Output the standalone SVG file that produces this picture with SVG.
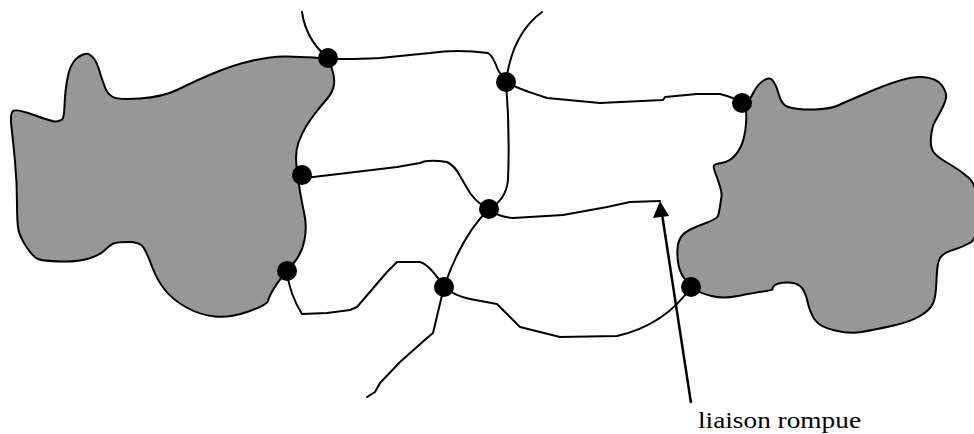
<svg xmlns="http://www.w3.org/2000/svg" width="974" height="434" viewBox="0 0 974 434">
<style>
.blob{fill:#979797;stroke:#000;stroke-width:2;stroke-linejoin:round}
.link{fill:none;stroke:#000;stroke-width:2;stroke-linejoin:round;stroke-linecap:round}
.node{fill:#000}
.lbl{font-family:"Liberation Serif",serif;font-size:23px;fill:#000}
</style>
<rect width="974" height="434" fill="#fff"/>
<g id="zone-left">
<path class="blob" d="M331.5,67.5 Q328,58 314,57.5 Q300,57 286.5,56.5 Q273,56 253,60.5 Q233,65 213,73.5 Q193,82 178,89.5 Q163,97 140,98.5 Q117,100 112,96.5 Q107,93 105,87.5 Q103,82 101.5,77.5 Q100,73 98.5,68 Q97,63 94.5,59.5 Q92,56 89.5,54.5 Q87,53 82,55 Q77,57 73.5,62 Q70,67 68.5,73.5 Q67,80 66,87.5 Q65,95 64.5,106.5 Q64,118 62,119.5 Q60,121 56.5,121.5 Q53,122 34,115 Q15,108 12.5,111.5 Q10,115 11.5,127.5 Q13,140 15,161.5 Q17,183 17,203 Q17,223 18.5,230 Q20,237 26.5,247 Q33,257 38,259 Q43,261 60.5,261.5 Q78,262 89,258.5 Q100,255 105,250 Q110,245 113.5,243.5 Q117,242 128.5,242 Q140,242 143.5,247.5 Q147,253 152,266.5 Q157,280 165,290 Q173,300 186.5,307.5 Q200,315 215,316.5 Q230,318 248.5,311.5 Q267,305 268,301 Q269,297 273,290 Q277,283 282,277 Q287,271 294.5,262 Q302,253 304.5,240 Q307,227 304.5,215 Q302,203 300,191.5 Q298,180 296.5,166 Q295,152 298.5,142.5 Q302,133 306,126.5 Q310,120 315,113.5 Q320,107 326.5,99.5 Q333,92 334,84.5 Q335,77 331.5,67.5 Z"/>
</g>
<g id="zone-right">
<path class="blob" d="M744.5,106.5 Q742,103 746,101.5 Q750,100 753.5,92.5 Q757,85 763.5,80.5 Q770,76 773.5,81.5 Q777,87 778.5,93.5 Q780,100 783.5,104 Q787,108 798.5,109 Q810,110 821.5,109 Q833,108 838,105.5 Q843,103 875,89.5 Q907,76 922,77 Q937,78 942,85.5 Q947,93 946,98 Q945,103 941,110.5 Q937,118 934.5,122.5 Q932,127 931,137 Q930,147 933.5,152 Q937,157 948.5,163.5 Q960,170 969,178 Q978,186 978,212 Q978,238 970.5,242.5 Q963,247 953,250 Q943,253 940,258 Q937,263 936.5,280 Q936,297 933,303.5 Q930,310 920,316 Q910,322 891.5,326 Q873,330 861.5,332 Q850,334 835,330.5 Q820,327 815,320 Q810,313 807.5,301.5 Q805,290 800,286 Q795,282 786,282.5 Q777,283 774.5,285.5 Q772,288 772.5,289 Q773,290 763,291.5 Q753,293 738,296 Q723,299 711.5,296 Q700,293 695.5,290 Q691,287 685.5,280 Q680,273 678.5,265 Q677,257 677.5,248.5 Q678,240 682.5,235 Q687,230 702,224.5 Q717,219 718,216 Q719,213 720,206.5 Q721,200 721.5,196.5 Q722,193 720,186.5 Q718,180 715.5,173.5 Q713,167 714,165.5 Q715,164 721.5,163 Q728,162 733,157.5 Q738,153 741.5,145 Q745,137 746,123.5 Q747,110 744.5,106.5 Z"/>
</g>
<g id="connectors">
<path class="link" d="M302,12 Q306,40 328,58"/>
<path class="link" d="M328,58 Q338,60 380,58 L430,53 Q457,49 488,53 Q493,56 498,70 L506,82"/>
<path class="link" d="M542,12 Q512,34 506,82"/>
<path class="link" d="M506,82 Q515,88 547,98 L600,103 L663,100 L665,97 L697,94 L720,94 Q733,97 742,103"/>
<path class="link" d="M506,82 Q510,130 508,180 Q506,200 489,209"/>
<path class="link" d="M302,175 Q308,177 313,177 L347,173 L397,167 L420,163 Q428,159 447,162 Q455,166 460,176 L470,193 Q478,204 489,209"/>
<path class="link" d="M489,209 Q498,217 513,218 L563,215 L607,207 L630,202 L660,201"/>
<path class="link" d="M489,209 Q462,235 444,287"/>
<path class="link" d="M444,287 L433,333 L427,338 L400,362 L380,383 L375,392 L367,397"/>
<path class="link" d="M287,271 Q289,293 302,314 L327,313 L350,310 L357,307 L387,272 L397,262 L420,262 Q430,265 444,287"/>
<path class="link" d="M444,287 Q455,296 470,299 L497,304 L520,327 L560,337 L617,336 Q665,325 691,287"/>
</g>
<g id="node-A"><circle class="node" cx="328" cy="58" r="10"/></g>
<g id="node-B"><circle class="node" cx="506" cy="82" r="10"/></g>
<g id="node-C"><circle class="node" cx="742" cy="103" r="10"/></g>
<g id="node-D"><circle class="node" cx="489" cy="209" r="10"/></g>
<g id="node-E"><circle class="node" cx="302" cy="175" r="10"/></g>
<g id="node-F"><circle class="node" cx="444" cy="287" r="10"/></g>
<g id="node-G"><circle class="node" cx="287" cy="271" r="10"/></g>
<g id="node-H"><circle class="node" cx="691" cy="287" r="10"/></g>
<g id="label">
<line x1="691" y1="403" x2="662" y2="214" stroke="#000" stroke-width="2.5"/>
<polygon points="660,201 653,218 669,216" fill="#000"/>
<text class="lbl" x="698" y="428" textLength="163" lengthAdjust="spacingAndGlyphs">liaison rompue</text>
</g>
</svg>
